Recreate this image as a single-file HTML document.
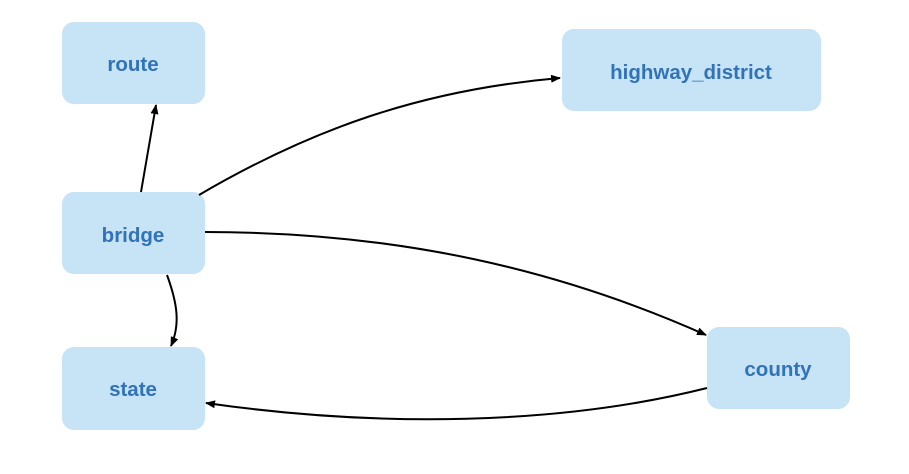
<!DOCTYPE html>
<html><head><style>
body{margin:0;width:909px;height:469px;background:#fff;overflow:hidden}
</style></head><body>
<svg width="909" height="469" xmlns="http://www.w3.org/2000/svg">
<defs><marker id="a" markerWidth="10" markerHeight="8" refX="9" refY="4" orient="auto" markerUnits="userSpaceOnUse"><path d="M0,0L10,4L0,8z" fill="#000"/></marker></defs>
<g fill="#c6e4f6">
<rect x="62" y="22" width="143" height="82" rx="12"/>
<rect x="62" y="192" width="143" height="82" rx="12"/>
<rect x="62" y="347" width="143" height="83" rx="12"/>
<rect x="562" y="29" width="259" height="82" rx="12"/>
<rect x="707" y="327" width="143" height="82" rx="12"/>
</g>
<g fill="none" stroke="#000" stroke-width="2" marker-end="url(#a)">
<path d="M141,192L156,105"/>
<path d="M199,195C310,130 420,90 560,78"/>
<path d="M205,232C400,232 560,270 706,335"/>
<path d="M167,275C178,305 180,325 171,346"/>
<path d="M707,388C560,425 380,428 206,403"/>
</g>
<g font-family="Liberation Sans, sans-serif" font-weight="bold" font-size="20.5" fill="#3272b8" text-anchor="middle">
<text x="133" y="71">route</text>
<text x="133" y="242">bridge</text>
<text x="133" y="396">state</text>
<text x="691" y="79">highway_district</text>
<text x="778" y="376">county</text>
</g>
</svg>
</body></html>
